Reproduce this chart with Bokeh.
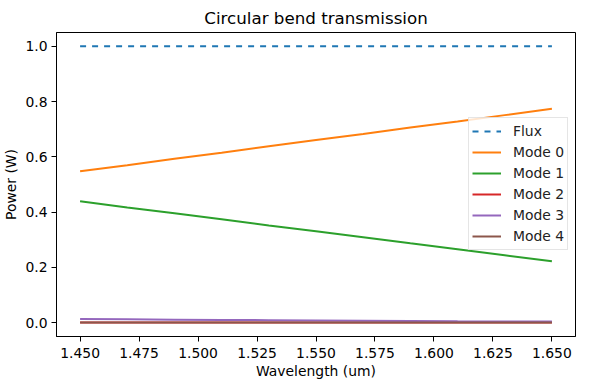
from bokeh.plotting import figure
from bokeh.models import Range1d, FixedTicker, NumeralTickFormatter, Legend, LegendItem
from bokeh.embed import file_html
from bokeh.resources import INLINE

wavelength = [1.45, 1.47, 1.49, 1.51, 1.53, 1.55, 1.57, 1.59, 1.61, 1.63, 1.65]
flux = [1.0, 1.0, 1.0, 1.0, 1.0, 1.0, 1.0, 1.0, 1.0, 1.0, 1.0]
mode0 = [0.548, 0.570, 0.593, 0.615, 0.638, 0.661, 0.683, 0.706, 0.728, 0.751, 0.774]
mode1 = [0.439, 0.417, 0.396, 0.374, 0.352, 0.331, 0.309, 0.287, 0.266, 0.244, 0.222]
mode2 = [0.0005, 0.0005, 0.0005, 0.0005, 0.0005, 0.0005, 0.0005, 0.0005, 0.0005, 0.0005, 0.0005]
mode3 = [0.013, 0.012, 0.011, 0.010, 0.009, 0.008, 0.007, 0.006, 0.005, 0.0045, 0.004]
mode4 = [0.001, 0.001, 0.001, 0.001, 0.001, 0.001, 0.001, 0.001, 0.001, 0.001, 0.001]

x_ticks = [1.45, 1.475, 1.5, 1.525, 1.55, 1.575, 1.6, 1.625, 1.65]
y_ticks = [0.0, 0.2, 0.4, 0.6, 0.8, 1.0]

series = [
    ("Flux", flux, "#1f77b4", "dashed"),
    ("Mode 0", mode0, "#ff7f0e", "solid"),
    ("Mode 1", mode1, "#2ca02c", "solid"),
    ("Mode 2", mode2, "#d62728", "solid"),
    ("Mode 3", mode3, "#9467bd", "solid"),
    ("Mode 4", mode4, "#8c564b", "solid"),
]

FONT = "DejaVu Sans"

p = figure(frame_width=519, frame_height=304, output_backend="svg", toolbar_location=None,
           x_range=Range1d(1.44, 1.66), y_range=Range1d(-0.05, 1.05),
           min_border_left=53, min_border_right=8, min_border_top=24, min_border_bottom=46,
           title="Circular bend transmission")
p.title.align = "center"
p.title.text_font = FONT
p.title.text_font_size = "16.7px"
p.title.text_font_style = "normal"
p.title.text_color = "black"
p.title.standoff = 10

p.xgrid.visible = False
p.ygrid.visible = False
p.outline_line_color = "black"
p.outline_line_width = 1
p.outline_line_alpha = 1
p.background_fill_color = "white"
p.border_fill_color = "white"

for ax in (p.xaxis[0], p.yaxis[0]):
    ax.axis_line_color = "black"
    ax.major_tick_line_color = "black"
    ax.major_tick_out = 5
    ax.major_tick_in = 0
    ax.minor_tick_line_color = None
    ax.major_label_text_font = FONT
    ax.major_label_text_font_size = "13.9px"
    ax.major_label_text_color = "black"
    ax.axis_label_text_font = FONT
    ax.axis_label_text_font_size = "13.9px"
    ax.axis_label_text_font_style = "normal"
    ax.axis_label_text_color = "black"
    ax.major_label_standoff = 4

p.xaxis.major_label_standoff = 6
p.xaxis.ticker = FixedTicker(ticks=x_ticks)
p.yaxis.ticker = FixedTicker(ticks=y_ticks)
p.xaxis.formatter = NumeralTickFormatter(format="0.000")
p.yaxis.formatter = NumeralTickFormatter(format="0.0")
p.xaxis.axis_label = "Wavelength (um)"
p.yaxis.axis_label = "Power (W)"
p.xaxis.axis_label_standoff = 2
p.yaxis.axis_label_standoff = 3

items = []
for name, vals, color, dash in series:
    r = p.line(wavelength, vals, line_color=color, line_width=2, line_dash=dash)
    items.append(LegendItem(label=name, renderers=[r]))

legend = Legend(items=items, location=(412, 86))
legend.margin = 0
legend.padding = 3
legend.spacing = 1
legend.glyph_width = 29
legend.glyph_height = 20
legend.label_height = 20
legend.label_standoff = 12
legend.label_text_font = FONT
legend.label_text_font_size = "13.9px"
legend.label_text_color = "#222222"
legend.border_line_color = "#cccccc"
legend.border_line_width = 1
legend.background_fill_color = "white"
legend.background_fill_alpha = 0.8
p.add_layout(legend, "center")

open("out.html", "w").write(file_html(p, INLINE))
